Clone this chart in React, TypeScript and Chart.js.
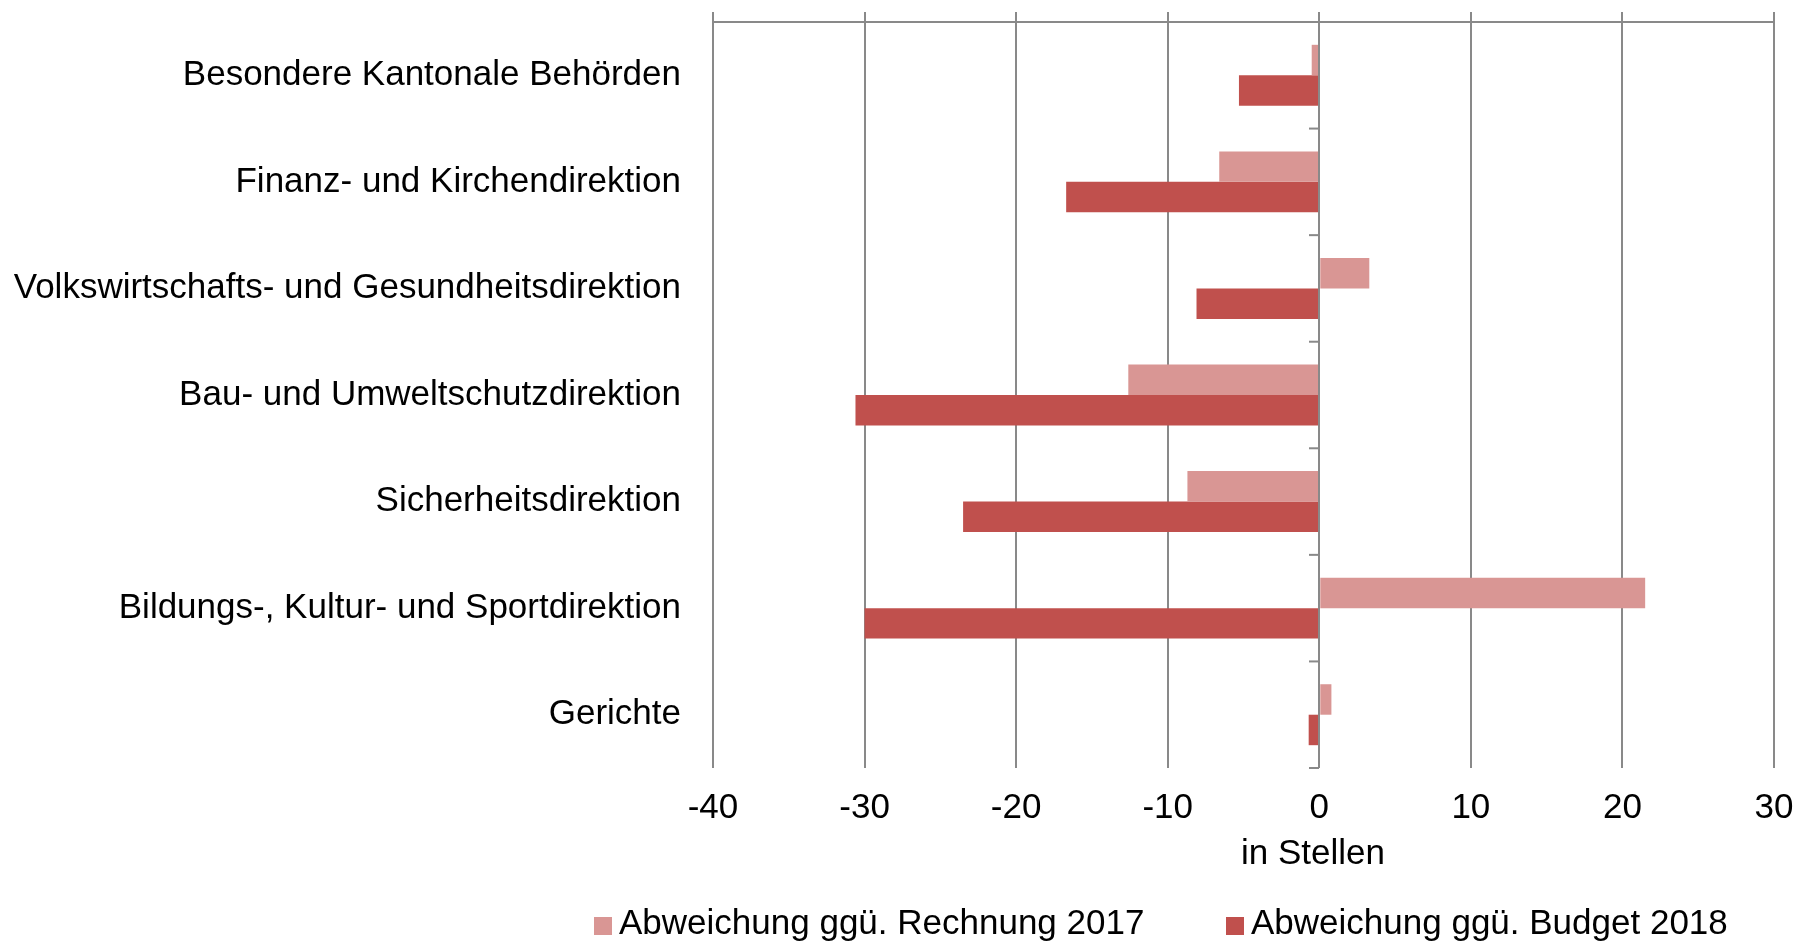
import { useEffect, useRef } from "react";
import { Chart, registerables } from "chart.js";

Chart.register(...registerables);

const categories = [
  "Besondere Kantonale Behörden",
  "Finanz- und Kirchendirektion",
  "Volkswirtschafts- und Gesundheitsdirektion",
  "Bau- und Umweltschutzdirektion",
  "Sicherheitsdirektion",
  "Bildungs-, Kultur- und Sportdirektion",
  "Gerichte",
];
const rechnung2017 = [-0.5, -6.6, 3.3, -12.6, -8.7, 21.5, 0.8];
const budget2018 = [-5.3, -16.7, -8.1, -30.6, -23.5, -30, -0.7];
const seriesLabels = ["Abweichung ggü. Rechnung 2017", "Abweichung ggü. Budget 2018"];
const seriesColors = ["#D99694", "#C0504D"];
const xMin = -40;
const xMax = 30;
const xStep = 10;
const axisTitle = "in Stellen";

const FONT = "'Liberation Sans', Arial, sans-serif";
const FONT_SIZE = 35;
const GRID = "#898989";

const decorPlugin = {
  id: "decor",
  afterDatasetsDraw(chart: any) {
    const { ctx, chartArea } = chart;
    const x = chart.scales.x;
    ctx.save();
    ctx.strokeStyle = GRID;
    ctx.lineWidth = 2;
    // top axis line
    ctx.beginPath();
    ctx.moveTo(chartArea.left - 1, chartArea.top);
    ctx.lineTo(chartArea.right + 1, chartArea.top);
    ctx.stroke();
    // upward tick extensions
    for (let v = xMin; v <= xMax; v += xStep) {
      const px = Math.round(x.getPixelForValue(v));
      ctx.beginPath();
      ctx.moveTo(px, chartArea.top - 10);
      ctx.lineTo(px, chartArea.top);
      ctx.stroke();
    }
    // category axis at zero
    const x0 = Math.round(x.getPixelForValue(0));
    ctx.beginPath();
    ctx.moveTo(x0, chartArea.top);
    ctx.lineTo(x0, chartArea.bottom);
    ctx.stroke();
    const n = categories.length;
    const band = (chartArea.bottom - chartArea.top) / n;
    for (let i = 0; i <= n; i++) {
      const py = chartArea.top + band * i;
      ctx.beginPath();
      ctx.moveTo(x0 - 10, py);
      ctx.lineTo(x0, py);
      ctx.stroke();
    }
    // axis title
    ctx.fillStyle = "#000";
    ctx.font = `${FONT_SIZE}px ${FONT}`;
    ctx.textAlign = "center";
    ctx.textBaseline = "alphabetic";
    ctx.fillText(axisTitle, x0 - 6, 864);
    // legend
    const legendX = [594, 1226];
    ctx.textAlign = "left";
    for (let i = 0; i < seriesLabels.length; i++) {
      ctx.fillStyle = seriesColors[i];
      ctx.fillRect(legendX[i], 917, 18, 18);
      ctx.fillStyle = "#000";
      ctx.fillText(seriesLabels[i], legendX[i] + 25, 934);
    }
    ctx.restore();
  },
};

const noPad = (s: any) => {
  s.paddingTop = 0;
  s.paddingBottom = 0;
  s.paddingLeft = 0;
  s.paddingRight = 0;
};

export default function App() {
  const ref = useRef<HTMLCanvasElement>(null);
  useEffect(() => {
    if (!ref.current) return;
    const chart = new Chart(ref.current, {
      type: "bar",
      data: {
        labels: categories,
        datasets: [
          {
            label: seriesLabels[0],
            data: rechnung2017,
            backgroundColor: seriesColors[0],
            categoryPercentage: 0.572,
            barPercentage: 1,
          },
          {
            label: seriesLabels[1],
            data: budget2018,
            backgroundColor: seriesColors[1],
            categoryPercentage: 0.572,
            barPercentage: 1,
          },
        ],
      },
      options: {
        indexAxis: "y",
        responsive: false,
        animation: false,
        layout: { padding: { left: 0, right: 23, top: 22, bottom: 0 } },
        plugins: {
          legend: { display: false },
          tooltip: { enabled: false },
        },
        scales: {
          x: {
            type: "linear",
            min: xMin,
            max: xMax,
            ticks: {
              stepSize: xStep,
              color: "#000",
              font: { family: FONT, size: FONT_SIZE },
              padding: 19,
              maxRotation: 0,
            },
            grid: { color: GRID, lineWidth: 2, drawTicks: false },
            border: { display: false },
            afterFit: (s: any) => {
              s.height = 943 - 768;
              noPad(s);
            },
          },
          y: {
            type: "category",
            ticks: {
              color: "#000",
              font: { family: FONT, size: FONT_SIZE },
              padding: 32,
            },
            grid: { display: false, drawTicks: false },
            border: { display: false },
            afterFit: (s: any) => {
              s.width = 713;
              noPad(s);
            },
          },
        },
      },
      plugins: [decorPlugin],
    });
    return () => chart.destroy();
  }, []);
  return (
    <div style={{ position: "fixed", left: 0, top: 0, width: 1797, height: 943, background: "#fff" }}>
      <canvas ref={ref} width={1797} height={943} style={{ width: 1797, height: 943 }} />
    </div>
  );
}
